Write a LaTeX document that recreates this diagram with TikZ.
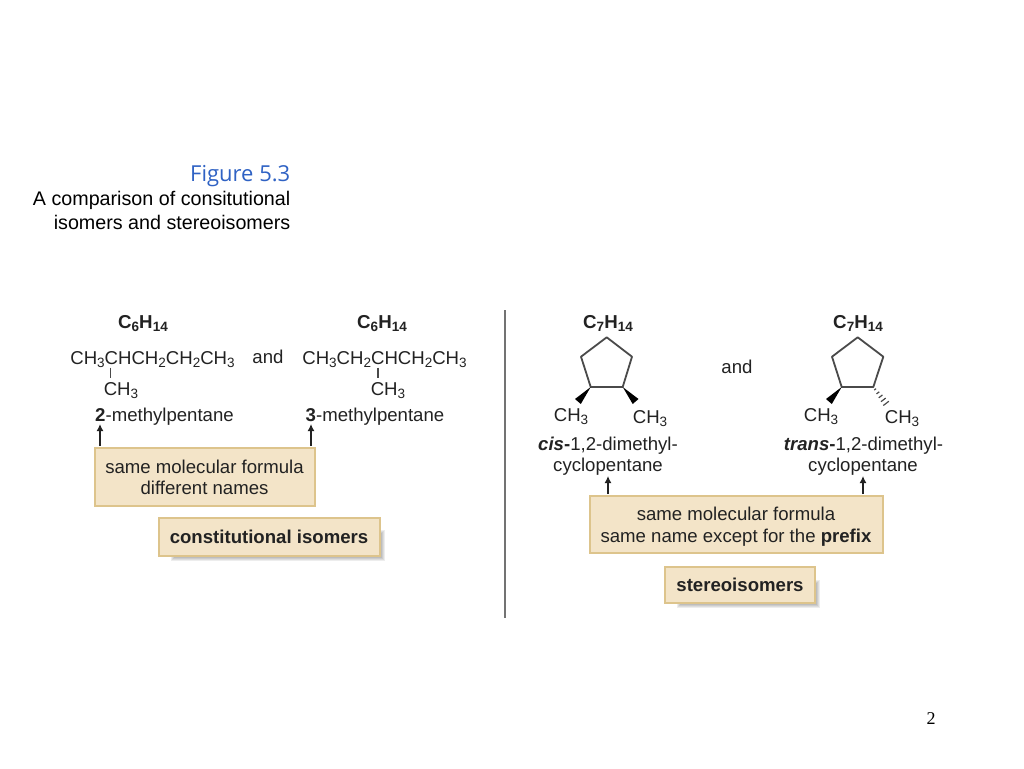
\documentclass[tikz,border=0pt]{standalone}
\usepackage{fontspec}
\setmainfont{Liberation Sans}
\newfontfamily\titlefont{Open Sans}
\newfontfamily\numfont{Liberation Serif}
\usetikzlibrary{arrows.meta,calc}
\definecolor{ink}{HTML}{222222}
\definecolor{bondc}{HTML}{4A4A4A}
\definecolor{boxfill}{HTML}{F3E4C8}
\definecolor{boxedge}{HTML}{DDC48C}
\definecolor{figblue}{HTML}{2F62C4}
\newcommand{\fs}[1]{\fontsize{#1}{#1}\selectfont}
\newcommand{\sbs}[1]{\raisebox{-3.4pt}{\fs{13.5}#1}}
\newcommand{\bsbs}[1]{\raisebox{-3.4pt}{\fs{13.5}\bfseries #1}}
\tikzset{
  x=1pt,y=-1pt,
  lbl/.style={inner sep=0pt,anchor=base,text=ink,font=\fs{18.6}},
  formula/.style={lbl,font=\fs{18.7}\bfseries},
  captxt/.style={inner sep=0pt,anchor=base east,text=black,font=\fs{19.7}},
  panel/.style={draw=boxedge,line width=2pt,fill=boxfill},
  bond/.style={draw=bondc,line width=1.8pt,line join=round},
  wedgefill/.style={fill=black,draw=none},
  uparrow/.style={draw=ink,line width=1.4pt,-{Latex[length=7pt,width=7pt]}}
}
\newcommand{\softshadow}[4]{%
  \foreach \g in {5,4,3,2,1,0}{
    \fill[black,opacity=0.07] (#1-\g,#2-\g) rectangle (#3+\g,#4+\g);
  }}
\begin{document}
\begin{tikzpicture}
\useasboundingbox (0,0) rectangle (1024,768);
\fill[white] (0,0) rectangle (1024,768);
% caption
\node[captxt,font=\titlefont\fs{22},text=figblue] (figt) at (290.5,181) {Figure 5.3};
\node[captxt] (cap1) at (290.5,205) {A comparison of consitutional};
\node[captxt] (cap2) at (290.5,229) {isomers and stereoisomers};
\node[inner sep=0pt,anchor=base,font=\numfont\fs{18},text=black] (pageno) at (931,724) {2};
% divider
\coordinate (divt) at (505,310);
\coordinate (divb) at (505,618);
\draw[draw=black!55,line width=1.8pt] (divt) -- (divb);
% shadows
\softshadow{176}{535}{380}{556}
\softshadow{682}{585}{815}{603}
% left panel
\node[formula] (fa) at (143,328) {C\bsbs{6}H\bsbs{14}};
\node[formula] (fb) at (382,328) {C\bsbs{6}H\bsbs{14}};
\node[lbl] (sa) at (152.5,364) {CH\sbs{3}CHCH\sbs{2}CH\sbs{2}CH\sbs{3}};
\node[lbl] (anda) at (268,363) {and};
\node[lbl] (sb) at (384.5,364) {CH\sbs{3}CH\sbs{2}CHCH\sbs{2}CH\sbs{3}};
\node[lbl] (ma) at (121,395) {CH\sbs{3}};
\node[lbl] (mb) at (388,395) {CH\sbs{3}};
\coordinate (ba1) at (110.5,367.5);
\coordinate (ba2) at (110.5,378);
\coordinate (bb1) at (378,367.5);
\coordinate (bb2) at (378,378);
\draw[bond,line width=1.4pt] (ba1) -- (ba2);
\draw[bond,line width=1.4pt] (bb1) -- (bb2);
\node[lbl] (na) at (164.5,421) {\textbf{2}-methylpentane};
\node[lbl] (nb) at (375,421) {\textbf{3}-methylpentane};
\node[panel,minimum width=220pt,minimum height=58pt,inner sep=0pt] (boxa) at (204.5,476.5) {};
\node[lbl] (boxa1) at (204.5,473) {same molecular formula};
\node[lbl] (boxa2) at (204.5,494) {different names};
\node[panel,minimum width=221pt,minimum height=38pt,inner sep=0pt] (boxb) at (269,536.5) {};
\node[lbl,font=\fs{18.6}\bfseries] (boxbt) at (269,543) {constitutional isomers};
\coordinate (aa) at (100,424);
\coordinate (ab) at (311,424);
\coordinate (aa0) at (100,446);
\coordinate (ab0) at (311,446);
\draw[uparrow] (aa0) -- (aa);
\draw[uparrow] (ab0) -- (ab);
% right panel: cis
\node[formula] (fc) at (608,328) {C\bsbs{7}H\bsbs{14}};
\coordinate (c1) at (606.7,337.3);
\coordinate (c2) at (632,356.7);
\coordinate (c3) at (622.7,387);
\coordinate (c4) at (590.7,387);
\coordinate (c5) at (581,356.7);
\draw[bond] (c1) -- (c2) -- (c3) -- (c4) -- (c5) -- cycle;
\fill[wedgefill] (c4) -- (580.8,404) -- (575,399) -- cycle;
\fill[wedgefill] (c3) -- (638.5,399) -- (632.7,404) -- cycle;
\node[lbl] (cm1) at (571,421) {CH\sbs{3}};
\node[lbl] (cm2) at (650,423) {CH\sbs{3}};
\node[lbl] (cn1) at (608,450) {\textbf{\textit{cis}}\textbf{-}1,2-dimethyl-};
\node[lbl] (cn2) at (608,471) {cyclopentane};
% right panel: trans
\node[lbl] (andb) at (737,373) {and};
\node[formula] (fd) at (858,328) {C\bsbs{7}H\bsbs{14}};
\coordinate (t1) at (857.7,337.3);
\coordinate (t2) at (883.3,356.7);
\coordinate (t3) at (873.3,387);
\coordinate (t4) at (841.7,387);
\coordinate (t5) at (832,356.7);
\coordinate (t6) at (888.5,406.5);
\draw[bond] (t1) -- (t2) -- (t3) -- (t4) -- (t5) -- cycle;
\fill[wedgefill] (t4) -- (831.8,404) -- (826,399) -- cycle;
\foreach \f in {0.12,0.3,0.48,0.66,0.84}{
  \draw[draw=bondc,line width=1.2pt]
    ($(t3)!\f!(t6)+({0.6+2.6*\f},{-0.45-2.0*\f})$) --
    ($(t3)!\f!(t6)+({-0.6-2.6*\f},{0.45+2.0*\f})$);
}
\node[lbl] (tm1) at (821,421) {CH\sbs{3}};
\node[lbl] (tm2) at (902,423) {CH\sbs{3}};
\node[lbl] (tn1) at (863.5,450) {\textbf{\textit{trans}}\textbf{-}1,2-dimethyl-};
\node[lbl] (tn2) at (863,471) {cyclopentane};
% right boxes
\node[panel,minimum width=293pt,minimum height=57pt,inner sep=0pt] (boxc) at (736,524) {};
\node[lbl] (boxc1) at (736,520) {same molecular formula};
\node[lbl] (boxc2) at (736,542) {same name except for the \textbf{prefix}};
\node[panel,minimum width=150pt,minimum height=36pt,inner sep=0pt] (boxd) at (740,584.5) {};
\node[lbl,font=\fs{18.6}\bfseries] (boxdt) at (740,591) {stereoisomers};
\coordinate (ac) at (608,476);
\coordinate (ad) at (863,476);
\coordinate (ac0) at (608,494);
\coordinate (ad0) at (863,494);
\draw[uparrow] (ac0) -- (ac);
\draw[uparrow] (ad0) -- (ad);
\end{tikzpicture}
\end{document}
